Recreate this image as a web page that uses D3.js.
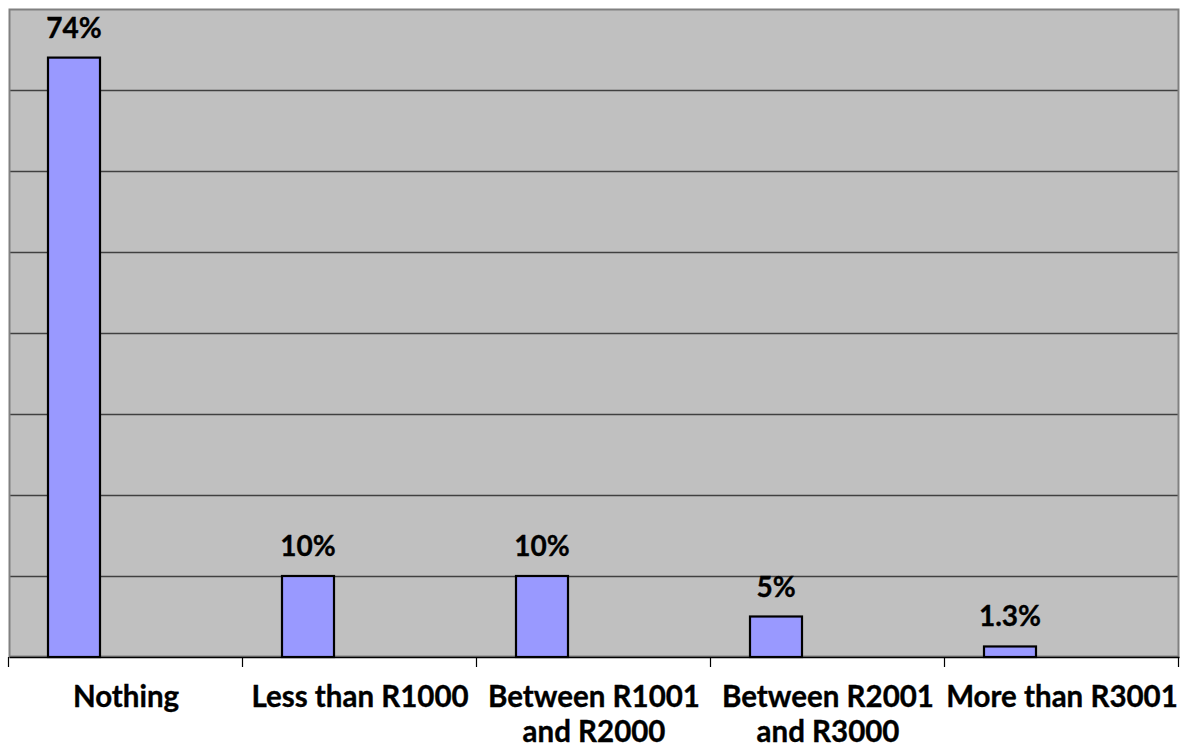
<!DOCTYPE html>
<html>
<head>
<meta charset="utf-8">
<script src="https://cdn.jsdelivr.net/npm/d3@7"></script>
<style>
  html, body { margin: 0; padding: 0; background: #ffffff; }
  svg { display: block; }
  text { font-family: Lato, "Open Sans", sans-serif; font-weight: bold; fill: #000; stroke: #000; stroke-width: 0.35px; }
</style>
</head>
<body>
<svg id="chart" width="1187" height="751"></svg>
<script>
const categories = [
  ["Nothing"],
  ["Less than R1000"],
  ["Between R1001", "and R2000"],
  ["Between R2001", "and R3000"],
  ["More than R3001"]
];
const values = [74, 10, 10, 5, 1.3];
const valueLabels = ["74%", "10%", "10%", "5%", "1.3%"];
const yTicks = [0, 10, 20, 30, 40, 50, 60, 70, 80];
const seriesSlots = [0, 1, 2];

const W = 1187, H = 751;
const plot = { left: 9, right: 1179, top: 9, bottom: 657 };

const svg = d3.select("#chart");

const x = d3.scaleBand()
  .domain(d3.range(categories.length))
  .range([plot.left, plot.right])
  .paddingInner(0).paddingOuter(0);

const xs = d3.scaleBand()
  .domain(seriesSlots)
  .range([0, x.bandwidth()])
  .paddingInner(0).paddingOuter(0.75);

const y = d3.scaleLinear()
  .domain([0, 80])
  .range([plot.bottom, plot.top]);

// plot background
svg.append("rect")
  .attr("x", plot.left).attr("y", plot.top)
  .attr("width", plot.right - plot.left)
  .attr("height", plot.bottom - plot.top)
  .attr("fill", "#c0c0c0");

// gridlines
svg.append("g")
  .selectAll("line")
  .data(yTicks.filter(t => t > 0 && t < 80))
  .join("line")
  .attr("x1", plot.left).attr("x2", plot.right)
  .attr("y1", d => Math.round(y(d)) + 0.5)
  .attr("y2", d => Math.round(y(d)) + 0.5)
  .attr("stroke", "#404040")
  .attr("stroke-width", 1.3);

// plot border (gray)
svg.append("rect")
  .attr("x", plot.left + 0.5).attr("y", plot.top + 0.5)
  .attr("width", plot.right - plot.left - 1)
  .attr("height", plot.bottom - plot.top - 1)
  .attr("fill", "none")
  .attr("stroke", "#808080")
  .attr("stroke-width", 2);

// bars
svg.append("g")
  .selectAll("rect")
  .data(values)
  .join("rect")
  .attr("x", (d, i) => x(i) + xs(0))
  .attr("y", d => y(d))
  .attr("width", xs.bandwidth())
  .attr("height", d => y(0) - y(d))
  .attr("fill", "#9999ff")
  .attr("stroke", "#000")
  .attr("stroke-width", 2.2);

// value labels
svg.append("g")
  .selectAll("text")
  .data(values)
  .join("text")
  .attr("x", (d, i) => x(i) + xs(0) + xs.bandwidth() / 2)
  .attr("y", d => y(d) - 20)
  .attr("text-anchor", "middle")
  .attr("font-size", 28)
  .text((d, i) => valueLabels[i]);

// x axis
const xAxis = d3.axisBottom(x)
  .tickSize(0)
  .tickFormat("");
const axG = svg.append("g")
  .attr("transform", `translate(0,${plot.bottom})`)
  .call(xAxis);
axG.select(".domain").attr("stroke", "#000").attr("stroke-width", 1.5);
axG.selectAll(".tick").remove();

// tick marks at category boundaries
const boundaries = d3.range(categories.length + 1).map(i => i === categories.length ? plot.right : x(i));
svg.append("g")
  .selectAll("line")
  .data(boundaries)
  .join("line")
  .attr("x1", d => Math.round(d) - 0.5).attr("x2", d => Math.round(d) - 0.5)
  .attr("y1", plot.bottom).attr("y2", plot.bottom + 10)
  .attr("stroke", "#000").attr("stroke-width", 1.2);

// category labels
const catG = svg.append("g")
  .selectAll("text")
  .data(categories)
  .join("text")
  .attr("x", (d, i) => x(i) + x.bandwidth() / 2)
  .attr("y", 707)
  .attr("text-anchor", "middle")
  .attr("font-size", 29.5);
catG.selectAll("tspan")
  .data(d => d)
  .join("tspan")
  .attr("x", function() { return d3.select(this.parentNode).attr("x"); })
  .attr("dy", (d, i) => i === 0 ? 0 : 35)
  .text(d => d);
</script>
</body>
</html>
